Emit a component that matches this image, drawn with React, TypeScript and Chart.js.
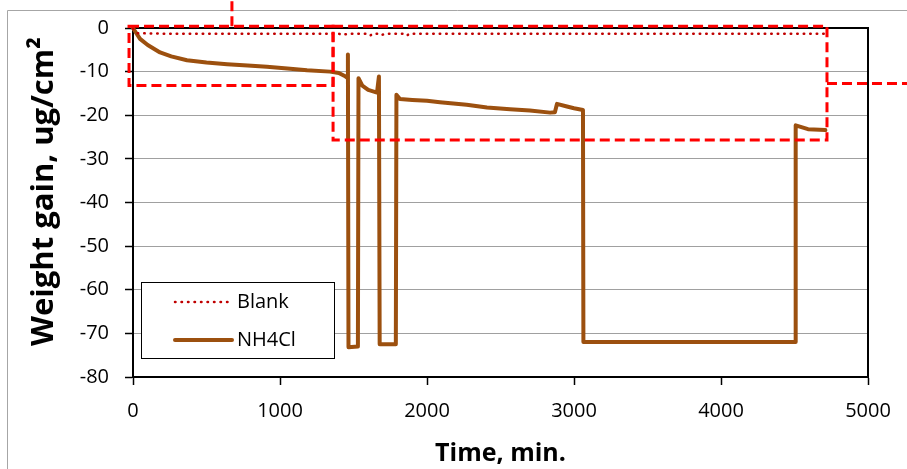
import React, { useEffect, useRef } from "react";
import { Chart, registerables } from "chart.js";

Chart.register(...registerables);

const FONT = "'Open Sans', 'Liberation Sans', sans-serif";

// X axis (time, min.) range and tick step
const xMin = 0;
const xMax = 5000;
const xStep = 1000;
// Y axis (weight gain) range and tick step
const yMin = -80;
const yMax = 0;
const yStep = 10;

const xTitle = "Time, min.";
const yTitle = "Weight gain, ug/cm²";

// Blank series
const blankTime = [0, 30, 200, 1400, 1425, 1450, 1470, 1600, 1615, 1630, 1680, 1690, 1720, 1850, 1865, 1880, 4720];
const blankGain = [-0.2, -1.2, -1.3, -1.3, -1.6, -1.4, -1.3, -1.3, -1.7, -1.3, -1.3, -1.6, -1.3, -1.3, -1.7, -1.3, -1.3];

// NH4Cl series
const nh4clTime = [
  0, 15, 48, 100, 184, 260, 367, 500, 640, 780, 911, 1050, 1184, 1340, 1400, 1440, 1456, 1462, 1466,
  1530, 1534, 1560, 1600, 1660, 1673, 1678, 1788, 1792, 1816, 1900, 2000, 2088, 2270, 2408, 2565,
  2700, 2837, 2870, 2884, 2952, 3000, 3061, 3064, 4505, 4508, 4592, 4710,
];
const nh4clGain = [
  0, -0.8, -2.5, -3.9, -5.6, -6.5, -7.4, -7.9, -8.3, -8.6, -8.9, -9.3, -9.7, -10.0, -10.3, -11.0, -11.4, -6.1, -73.2,
  -73.0, -11.5, -13.2, -14.2, -14.8, -11.1, -72.5, -72.5, -15.3, -16.3, -16.5, -16.7, -17.0, -17.6, -18.2, -18.6,
  -18.9, -19.4, -19.3, -17.4, -18.0, -18.4, -18.8, -72.0, -72.0, -22.3, -23.2, -23.4,
];

// Red dashed inset outlines (data units)
const insetLeft = [-27, 1361];
const insetRight = [1361, 4721];
const insetTop = [0.4, 0.4];
const insetBottom = [-13.2, -25.7];
// leader lines: vertical from first inset top (at this time), horizontal from second inset right (at this gain)
const leaderTime = 673;
const leaderGain = -12.7;

const RED = "#ff0000";
const BROWN = "#9c500f";
const DOT_RED = "#c00000";

const chartPlugin = {
  id: "decor",
  beforeDraw(chart: any) {
    const { ctx, width, height } = chart;
    ctx.save();
    ctx.fillStyle = "#ffffff";
    ctx.fillRect(0, 0, width, height);
    ctx.strokeStyle = "#a6a6a6";
    ctx.lineWidth = 1;
    ctx.beginPath();
    ctx.moveTo(7.5, height);
    ctx.lineTo(7.5, 10.5);
    ctx.lineTo(width, 10.5);
    ctx.stroke();
    ctx.restore();
  },
  beforeDatasetsDraw(chart: any) {
    const { ctx, chartArea } = chart;
    ctx.save();
    ctx.strokeStyle = "#000";
    ctx.lineWidth = 2;
    ctx.strokeRect(chartArea.left, chartArea.top, chartArea.right - chartArea.left, chartArea.bottom - chartArea.top);
    ctx.restore();
  },
  afterDatasetsDraw(chart: any) {
    const { ctx, width } = chart;
    const xs = chart.scales.x;
    const ys = chart.scales.y;
    const ca = chart.chartArea;

    // y axis title
    ctx.save();
    ctx.translate(44, (ca.top + ca.bottom) / 2 - 11);
    ctx.rotate(-Math.PI / 2);
    ctx.fillStyle = "#000";
    ctx.font = `bold 31px ${FONT}`;
    ctx.textAlign = "center";
    ctx.textBaseline = "middle";
    ctx.fillText(yTitle, 0, 0);
    ctx.restore();

    ctx.save();
    ctx.strokeStyle = RED;
    ctx.lineWidth = 3;
    ctx.setLineDash([10, 5]);
    for (let i = 0; i < insetLeft.length; i++) {
      const l = xs.getPixelForValue(insetLeft[i]);
      const r = xs.getPixelForValue(insetRight[i]);
      const t = ys.getPixelForValue(insetTop[i]);
      const b = ys.getPixelForValue(insetBottom[i]);
      ctx.strokeRect(l, t, r - l, b - t);
    }
    // leader lines
    const vx = xs.getPixelForValue(leaderTime);
    const vt = ys.getPixelForValue(insetTop[0]);
    ctx.beginPath();
    ctx.moveTo(vx, vt);
    ctx.lineTo(vx, 0);
    ctx.stroke();
    const hx = xs.getPixelForValue(insetRight[1]);
    const hy = ys.getPixelForValue(leaderGain);
    ctx.beginPath();
    ctx.moveTo(hx, hy);
    ctx.lineTo(width, hy);
    ctx.stroke();
    ctx.restore();

    // legend box
    const bx = ca.left + 8;
    const by = ca.bottom - 95;
    const bw = 193;
    const bh = 76;
    ctx.save();
    ctx.fillStyle = "#fff";
    ctx.fillRect(bx, by, bw, bh);
    ctx.strokeStyle = "#000";
    ctx.lineWidth = 1;
    ctx.strokeRect(bx + 0.5, by + 0.5, bw, bh);
    chart.data.datasets.forEach((ds: any, i: number) => {
      const cy = by + 20 + i * 38;
      ctx.save();
      ctx.strokeStyle = ds.borderColor;
      ctx.lineWidth = ds.borderWidth;
      ctx.lineCap = ds.borderCapStyle || "butt";
      ctx.setLineDash(ds.borderDash || []);
      ctx.beginPath();
      ctx.moveTo(bx + 34, cy);
      ctx.lineTo(bx + 91, cy);
      ctx.stroke();
      ctx.restore();
      ctx.fillStyle = "#000";
      ctx.font = `20px ${FONT}`;
      ctx.textAlign = "left";
      ctx.textBaseline = "middle";
      ctx.fillText(ds.label, bx + 96, cy);
    });
    ctx.restore();
  },
};

export default function App() {
  const ref = useRef<HTMLCanvasElement | null>(null);
  useEffect(() => {
    if (!ref.current) return;
    const blankData = blankTime.map((t, i) => ({ x: t, y: blankGain[i] }));
    const nh4clData = nh4clTime.map((t, i) => ({ x: t, y: nh4clGain[i] }));
    const chart = new Chart(ref.current, {
      type: "line",
      data: {
        datasets: [
          {
            label: "Blank",
            data: blankData,
            borderColor: DOT_RED,
            borderWidth: 2.5,
            borderDash: [0.5, 6],
            borderCapStyle: "round",
            pointRadius: 0,
            tension: 0,
            clip: false,
          } as any,
          {
            label: "NH4Cl",
            data: nh4clData,
            borderColor: BROWN,
            borderWidth: 4,
            borderCapStyle: "round",
            borderJoinStyle: "round",
            pointRadius: 0,
            tension: 0,
            clip: false,
          } as any,
        ],
      },
      options: {
        animation: false,
        responsive: false,
        layout: { padding: { left: 0, top: 25, right: 39, bottom: 0 } },
        plugins: { legend: { display: false }, tooltip: { enabled: false } },
        scales: {
          x: {
            type: "linear",
            min: xMin,
            max: xMax,
            ticks: {
              stepSize: xStep,
              maxRotation: 0,
              padding: 14,
              color: "#000",
              font: { family: FONT, size: 20 },
              callback: (v: any) => String(v),
            },
            grid: { drawOnChartArea: false, drawTicks: true, tickLength: 8, tickColor: "#000", tickWidth: 1.5 },
            border: { display: true, color: "#000", width: 2 },
            title: {
              display: true,
              text: xTitle,
              color: "#000",
              font: { family: FONT, size: 25, weight: "bold" },
              padding: { top: 0, bottom: 0 },
            },
            afterFit: (s: any) => {
              s.height = 92;
            },
          },
          y: {
            min: yMin,
            max: yMax,
            ticks: {
              stepSize: yStep,
              padding: 16,
              color: "#000",
              font: { family: FONT, size: 20 },
              callback: (v: any) => String(v),
            },
            grid: { color: "#a0a0a0", lineWidth: 1, drawTicks: true, tickLength: 8, tickColor: "#000", tickWidth: 1.5 },
            border: { display: true, color: "#000", width: 2 },
            title: { display: false, text: yTitle },
            afterFit: (s: any) => {
              s.width = 133;
            },
          },
        },
      },
      plugins: [chartPlugin],
    });
    return () => chart.destroy();
  }, []);
  return (
    <div style={{ position: "fixed", left: 0, top: 0, width: 907, height: 469, background: "#fff" }}>
      <canvas ref={ref} width={907} height={469} style={{ display: "block", width: 907, height: 469 }} />
    </div>
  );
}
